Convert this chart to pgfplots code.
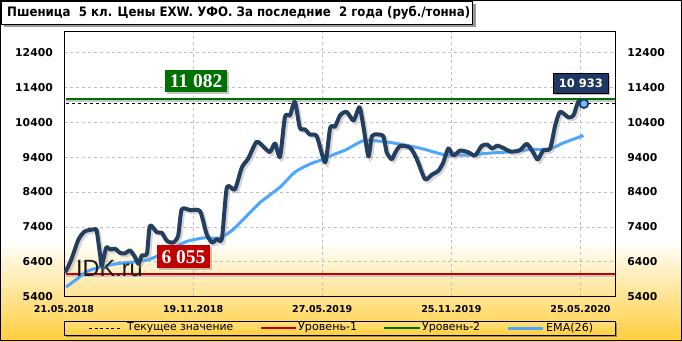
\documentclass[border=0pt]{standalone}
\usepackage{graphicx}
\usepackage{fontspec}
\setmainfont{DejaVu Sans}
\newfontfamily\serifb{Liberation Serif}
\newfontfamily\arialf{Liberation Sans}
\usepackage{pgfplots}
\pgfplotsset{compat=1.18}
\usetikzlibrary{shadows}
\definecolor{navy}{RGB}{36,62,96}
\definecolor{emablue}{RGB}{77,166,255}
\definecolor{lvlgreen}{RGB}{0,112,0}
\definecolor{lvlred}{RGB}{192,0,0}
\definecolor{gold}{RGB}{255,206,60}
\definecolor{paleyel}{RGB}{255,238,175}
\definecolor{boxnavy}{RGB}{31,56,100}

\pgfplotstableread{
w v
0.4 6130
1.5 6470
2.9 7030
4.2 7270
6.2 7330
6.6 7280
7.3 6560
7.6 6280
8.5 6800
9.3 6750
10.3 6770
11.3 6650
12.3 6640
13.3 6720
14.3 6530
15.0 6340
15.7 6580
16.7 6630
17.3 7430
18.7 7240
19.7 7230
20.7 7000
22.0 6950
23.0 7150
23.7 7900
25.4 7880
27.4 7850
28.7 7200
29.8 6950
30.8 7050
31.8 7060
32.8 8530
34.4 8470
35.8 9100
37.1 9360
38.8 9840
40.5 9650
41.5 9550
42.5 9790
43.5 9410
44.5 10560
45.5 10600
46.5 10990
47.5 10240
48.5 10200
49.5 10050
50.9 10000
52.6 9250
53.6 10240
54.6 10280
55.6 10600
56.9 10700
58.3 10450
59.5 10830
60.3 10280
61.3 9420
62.0 10000
63.0 10050
64.3 10000
65.0 9530
66.0 9340
66.7 9530
67.7 9720
69.7 9670
71.0 9360
72.7 8770
74.1 8900
75.4 9010
76.4 9250
77.4 9650
78.4 9450
79.8 9590
81.4 9540
82.8 9450
84.1 9720
85.2 9760
86.2 9650
87.3 9730
88.5 9660
90.0 9560
91.8 9600
93.2 9780
94.5 9530
95.4 9330
96.5 9590
97.9 9650
98.9 10300
99.9 10700
101.6 10540
102.6 10600
103.6 11000
104.7 10933
}\pricetable

\pgfplotstableread{
w v
0.4 5670
2.6 5900
4.6 6120
7.3 6240
10.6 6340
14.0 6390
17.3 6470
21.3 6740
24.7 6980
28.1 7080
31.4 7080
34.1 7330
36.5 7670
39.5 8100
43.5 8540
46.5 8970
49.5 9200
52.2 9340
54.6 9490
56.9 9620
60.3 9870
64.3 9850
67.0 9790
69.7 9720
72.7 9620
74.4 9550
77.1 9460
81.8 9460
85.1 9510
90.8 9560
93.9 9620
97.9 9640
100.6 9810
104.6 10020
}\ematable

\begin{document}
\begin{tikzpicture}[x=1pt,y=1pt]
\useasboundingbox (0,0) rectangle (682,341);
\fill[white] (0,0) rectangle (682,341);
\shade[top color=white, middle color=paleyel, bottom color=gold] (0,0) rectangle (682,101);

% title
\fill[black!40] (3.5,314.5) rectangle (475.5,336.5);
\fill[white] (1,317) rectangle (472.7,339.5);
\draw[black, line width=0.8pt] (1,317) rectangle (472.7,339.5);
\node[anchor=west, inner sep=0pt] at (7,328) {\resizebox{463pt}{\height}{\bfseries\fontsize{13}{15}\selectfont Пшеница\ \ 5 кл. Цены EXW. УФО. За последние\ \ 2 года (руб./тонна)}};

\begin{axis}[
  at={(64pt,44.5pt)}, anchor=south west,
  scale only axis, width=551.7pt, height=264.8pt,
  xmin=0, xmax=111.1, ymin=5400, ymax=13000,
  scaled y ticks=false, scaled x ticks=false,
  xtick={0,26,52,78,104},
  xticklabels={21.05.2018,19.11.2018,27.05.2019,25.11.2019,25.05.2020},
  ytick={5400,6400,7400,8400,9400,10400,11400,12400},
  yticklabels={5400,6400,7400,8400,9400,10400,11400,12400},
  major tick length=0pt,
  grid=major,
  major grid style={dashed, black!25, line width=0.6pt},
  axis line style={black, line width=0.8pt},
  xticklabel style={font=\bfseries\fontsize{9.5}{11}\selectfont, inner sep=0pt, anchor=north},
  xticklabel shift=8.5pt,
  yticklabel style={font=\bfseries\fontsize{10.8}{12}\selectfont, inner sep=0pt, anchor=east},
  yticklabel shift=11pt,
]
% level shadows
\addplot[black!22, line width=2.5pt, yshift=-2.5pt, forget plot] coordinates {(0.4,11082) (111.1,11082)};
\addplot[black!22, line width=2.5pt, yshift=-2.5pt, forget plot] coordinates {(0.4,6055) (111.1,6055)};
% levels
\addplot[lvlgreen, line width=2pt] coordinates {(0.4,11082) (111.1,11082)};
\addplot[lvlred, line width=2pt] coordinates {(0.4,6055) (111.1,6055)};
\addplot[black, dashed, line width=0.9pt] coordinates {(0.4,10933) (111.1,10933)};
% EMA
\addplot[emablue, line width=3pt, smooth, tension=0.4] table[x=w,y=v] {\ematable};
\node[anchor=west, inner sep=0pt, text=black!90] at (axis cs:2.4,6200) {\arialf\fontsize{23.5}{26}\selectfont IDK.ru};
% price shadow and price
\addplot[black!40, opacity=0.4, line width=4pt, smooth, tension=0.4, xshift=2pt, yshift=-2pt] table[x=w,y=v] {\pricetable};
\addplot[navy, line width=4pt, smooth, tension=0.4, line join=round, line cap=round] table[x=w,y=v] {\pricetable};
\addplot[only marks, mark=*, mark size=4.3pt, mark options={fill=emablue!75!white, draw=boxnavy, line width=1.8pt}] coordinates {(104.7,10933)};
% value boxes
\node[fill=lvlgreen, text=white, inner sep=0pt, minimum width=62.7pt, minimum height=22.7pt, drop shadow={shadow xshift=2pt, shadow yshift=-2pt, opacity=0.45}] at (axis cs:26.6,11583) {\serifb\bfseries\fontsize{19.5}{20}\selectfont 11 082};
\node[fill=lvlred, text=white, inner sep=0pt, minimum width=53pt, minimum height=23pt, drop shadow={shadow xshift=2pt, shadow yshift=-2pt, opacity=0.45}] at (axis cs:24.07,6537) {\serifb\bfseries\fontsize{19.5}{20}\selectfont 6 055};
\node[fill=boxnavy, draw=black, line width=0.6pt, text=white, inner sep=0pt, minimum width=55pt, minimum height=20pt, drop shadow={shadow xshift=2pt, shadow yshift=-2pt, opacity=0.45}] at (axis cs:104.1,11526) {\bfseries\fontsize{11.5}{13}\selectfont 10 933};
\end{axis}

\begin{axis}[
  at={(64pt,44.5pt)}, anchor=south west,
  scale only axis, width=551.7pt, height=264.8pt,
  xmin=0, xmax=111.1, ymin=5400, ymax=13000,
  scaled y ticks=false,
  axis x line=none, axis y line*=right,
  axis line style={black, line width=0.8pt},
  ytick={5400,6400,7400,8400,9400,10400,11400,12400},
  yticklabels={5400,6400,7400,8400,9400,10400,11400,12400},
  major tick length=0pt,
  yticklabel style={font=\bfseries\fontsize{10.8}{12}\selectfont, inner sep=0pt, anchor=west},
  yticklabel shift=11.5pt,
]
\end{axis}

% legend
\fill[black!45] (66,4.5) rectangle (616.5,18.5);
\shade[top color=paleyel!60!gold, bottom color=gold] (64,6) rectangle (615,20);
\draw[black, line width=0.9pt] (64,6) rectangle (615,20);
\draw[black, line width=0.9pt, dash pattern=on 3pt off 2.5pt] (89,13) -- (122,13);
\node[anchor=west, inner sep=0pt] at (127,13) {\resizebox{106pt}{\height}{\fontsize{11}{13}\selectfont Текущее значение}};
\draw[lvlred, line width=2pt] (261,13) -- (296,13);
\node[anchor=west, inner sep=0pt] at (298,13) {\resizebox{59pt}{\height}{\fontsize{11}{13}\selectfont Уровень-1}};
\draw[lvlgreen, line width=2pt] (384,13) -- (420,13);
\node[anchor=west, inner sep=0pt] at (422,13) {\resizebox{58pt}{\height}{\fontsize{11}{13}\selectfont Уровень-2}};
\draw[emablue, line width=3pt] (508,13) -- (543,13);
\node[anchor=west, inner sep=0pt] at (546,13) {\resizebox{47pt}{\height}{\fontsize{11}{13}\selectfont EMA(26)}};

\draw[black, line width=1pt] (0.5,0.5) rectangle (681.5,340.5);
\end{tikzpicture}
\end{document}
